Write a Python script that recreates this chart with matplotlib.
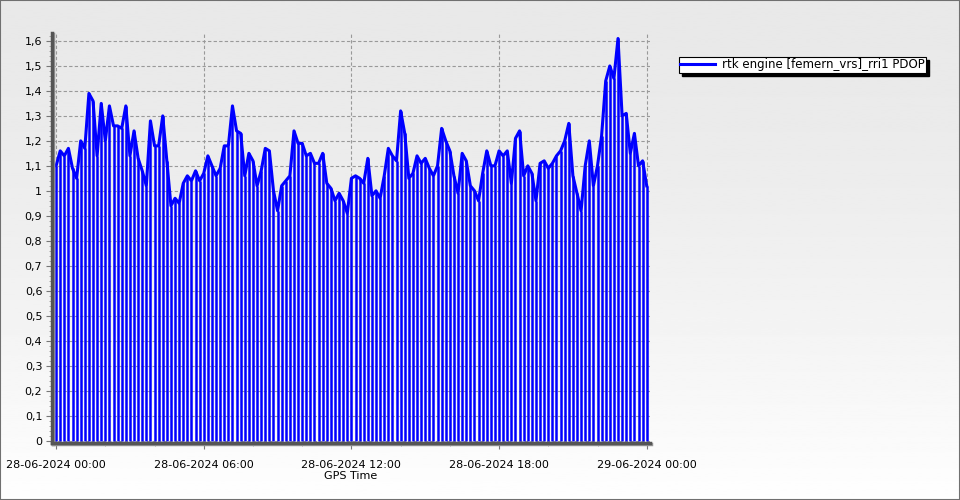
import numpy as np
import pandas as pd
import matplotlib
matplotlib.use("Agg")
import matplotlib.pyplot as plt
import matplotlib.dates as mdates
from matplotlib.ticker import FuncFormatter, MultipleLocator
import matplotlib.patheffects as pe

# PDOP, one value every 10 minutes, 28-06-2024 00:00 .. 29-06-2024 00:00
pdop = [1.10, 1.16, 1.14, 1.17, 1.09, 1.05, 1.20, 1.17, 1.39, 1.36,
        1.14, 1.35, 1.20, 1.34, 1.26, 1.26, 1.25, 1.34, 1.14, 1.24,
        1.13, 1.08, 1.02, 1.28, 1.18, 1.18, 1.30, 1.12, 0.94, 0.97,
        0.95, 1.03, 1.06, 1.04, 1.08, 1.04, 1.07, 1.14, 1.10, 1.06,
        1.09, 1.18, 1.18, 1.34, 1.24, 1.23, 1.06, 1.15, 1.12, 1.02,
        1.08, 1.17, 1.16, 1.00, 0.92, 1.02, 1.04, 1.06, 1.24, 1.19,
        1.19, 1.14, 1.15, 1.11, 1.11, 1.15, 1.03, 1.01, 0.96, 0.99,
        0.96, 0.91, 1.05, 1.06, 1.05, 1.03, 1.13, 0.98, 1.00, 0.97,
        1.06, 1.17, 1.14, 1.12, 1.32, 1.23, 1.05, 1.07, 1.14, 1.11,
        1.13, 1.09, 1.06, 1.10, 1.25, 1.20, 1.16, 1.06, 0.99, 1.15,
        1.12, 1.02, 1.00, 0.96, 1.07, 1.16, 1.10, 1.10, 1.16, 1.14,
        1.16, 1.03, 1.21, 1.24, 1.06, 1.10, 1.07, 0.96, 1.11, 1.12,
        1.09, 1.11, 1.14, 1.16, 1.20, 1.27, 1.06, 0.99, 0.92, 1.10,
        1.20, 1.02, 1.10, 1.22, 1.44, 1.50, 1.45, 1.61, 1.30, 1.31,
        1.15, 1.23, 1.10, 1.12, 1.02]
start = "2024-06-28 00:00"
step = "10min"
legend_label = "rtk engine [femern_vrs]_rri1 PDOP"

times = pd.date_range(start, periods=len(pdop), freq=step)

fig = plt.figure(figsize=(9.6, 5), dpi=100)

# background gradient (grey at top, almost white at bottom)
bg = fig.add_axes([0, 0, 1, 1], zorder=-5)
g = np.linspace(0, 1, 256)
grad = (0.912 + 0.085 * g ** 1.6).reshape(-1, 1)
bg.imshow(grad, cmap="gray", vmin=0, vmax=1, aspect="auto",
          extent=[0, 1, 1, 0], origin="upper")
bg.set_xlim(0, 1)
bg.set_ylim(1, 0)
bg.axis("off")
fig.patches.append(plt.Rectangle((0, 0), 1, 1, transform=fig.transFigure,
                                 fill=False, ec="#707070", lw=1.5))

ax = fig.add_axes([52 / 960, 57 / 500, 598 / 960, 410 / 500])
ax.set_facecolor("none")

ax.vlines(times, 0, pdop, color="#0000ff", lw=1.8)
ax.plot(times, pdop, color="#0000ff", lw=2.2, label=legend_label)

ax.set_xlim(pd.Timestamp("2024-06-27 23:50"), pd.Timestamp("2024-06-29 00:08"))
ax.set_ylim(-0.01, 1.632)

ax.xaxis.set_major_locator(mdates.HourLocator(byhour=[0, 6, 12, 18]))
ax.xaxis.set_minor_locator(mdates.HourLocator(byhour=range(0, 24, 2)))
ax.xaxis.set_major_formatter(mdates.DateFormatter("%d-%m-%Y %H:%M"))
ax.yaxis.set_major_locator(MultipleLocator(0.1))
ax.yaxis.set_minor_locator(MultipleLocator(0.02))
ax.yaxis.set_major_formatter(FuncFormatter(lambda v, p: ("%g" % round(v, 2)).replace(".", ",")))

ax.grid(True, which="major", color="#999999", ls=(0, (3, 2)), lw=0.8)
ax.tick_params(which="major", length=4, color="#777777", labelsize=8, pad=3)
ax.tick_params(which="minor", length=2, color="#999999")
ax.tick_params(axis="x", pad=8)

for s in ["top", "right"]:
    ax.spines[s].set_visible(False)
for s in ["left", "bottom"]:
    ax.spines[s].set_color("#555555")
    ax.spines[s].set_linewidth(2.5)
    ax.spines[s].set_path_effects([pe.SimpleLineShadow(offset=(1, -1), shadow_color="#999999", alpha=1),
                                   pe.Normal()])

ax.set_xlabel("GPS Time", fontsize=8, labelpad=1)

leg = ax.legend(loc="upper left", bbox_to_anchor=(627 / 598, 0.942), fontsize=8.5,
                frameon=True, fancybox=False, shadow=False, framealpha=1,
                handlelength=2.9, borderpad=0.12, handletextpad=0.6, borderaxespad=0)
leg.get_frame().set_edgecolor("black")
leg.get_frame().set_linewidth(0.8)
leg.get_frame().set_facecolor("white")

# hard drop shadow behind the legend box
fig.canvas.draw()
bb = leg.get_frame().get_window_extent()
W, H = fig.bbox.width, fig.bbox.height
fig.patches.append(plt.Rectangle(((bb.x0 + 3) / W, (bb.y0 - 3) / H), bb.width / W, bb.height / H,
                                 transform=fig.transFigure, color="black", zorder=-1))

fig.savefig("out.png", dpi=100)
